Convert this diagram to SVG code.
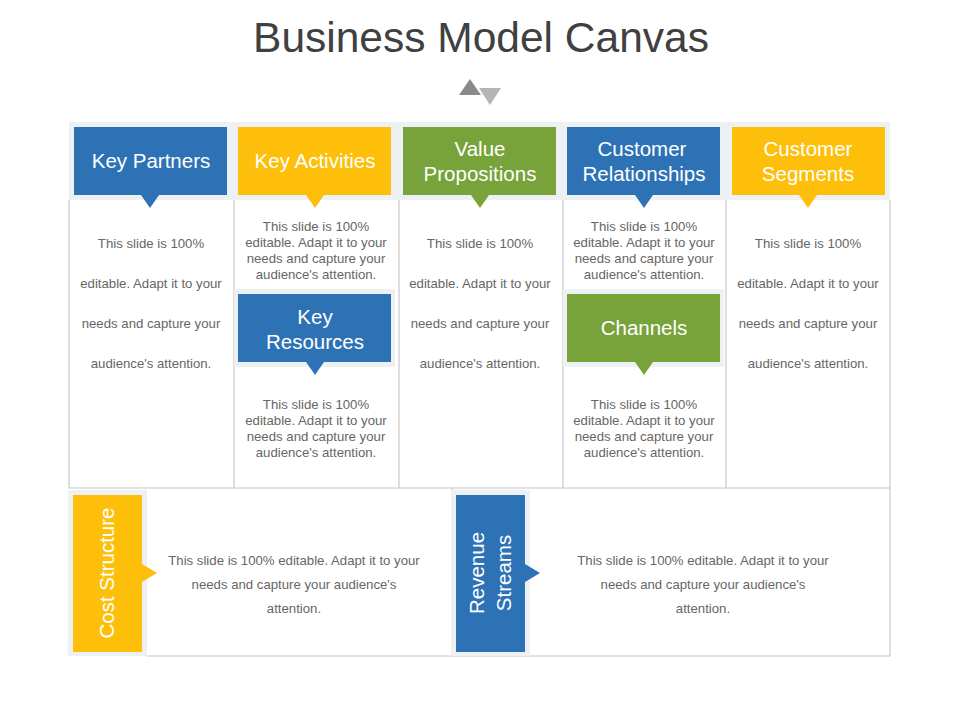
<svg xmlns="http://www.w3.org/2000/svg" width="960" height="720" viewBox="0 0 960 720">
<style>
.hd{font-family:"Liberation Sans",Arial,sans-serif;font-size:20.5px;fill:#fff;text-anchor:middle}
.bd{font-family:"Liberation Sans",Arial,sans-serif;font-size:13.2px;fill:#666;text-anchor:middle}
.ln{fill:none;stroke:#c8c8c8;stroke-width:1.2}
.fr{fill:#eef1f4}
.b{fill:#2e72b6}.y{fill:#fdbf0a}.g{fill:#77a33a}
</style>
<rect width="960" height="720" fill="#fff"/>
<text x="481" y="52" font-family="Liberation Sans,Arial,sans-serif" font-size="42.5" fill="#404040" text-anchor="middle">Business Model Canvas</text>
<polygon points="459,95 470,79 481,95" fill="#8a8a8a"/>
<polygon points="479,88 501,88 490,105" fill="#b5b5b5"/>
<g id="grid">
<rect class="fr" x="69" y="122" width="821" height="78"/>
<path class="ln" d="M69,200 V488 H890 V200 M234,200 V488 M399,200 V488 M563,200 V488 M726,200 V488 M147,656 H890 V488 M452,488 V656"/>
</g>
<g id="key-partners"><rect class="b" x="74" y="127" width="153" height="68"/><polygon class="b" points="141,195 159,195 150,208"/><text class="hd" x="151" y="168">Key Partners</text>
<text class="bd"><tspan x="151" y="248">This slide is 100%</tspan><tspan x="151" y="288">editable. Adapt it to your</tspan><tspan x="151" y="328">needs and capture your</tspan><tspan x="151" y="368">audience's attention.</tspan></text></g>
<g id="key-activities"><rect class="y" x="238" y="127" width="153" height="68"/><polygon class="y" points="306,195 324,195 315,208"/><text class="hd" x="315" y="168">Key Activities</text>
<text class="bd"><tspan x="316" y="231">This slide is 100%</tspan><tspan x="316" y="247">editable. Adapt it to your</tspan><tspan x="316" y="263">needs and capture your</tspan><tspan x="316" y="279">audience's attention.</tspan></text></g>
<g id="value-propositions"><rect class="g" x="403" y="127" width="153" height="68"/><polygon class="g" points="471,195 489,195 480,208"/><text class="hd"><tspan x="480" y="156">Value</tspan><tspan x="480" y="181">Propositions</tspan></text>
<text class="bd"><tspan x="480" y="248">This slide is 100%</tspan><tspan x="480" y="288">editable. Adapt it to your</tspan><tspan x="480" y="328">needs and capture your</tspan><tspan x="480" y="368">audience's attention.</tspan></text></g>
<g id="customer-relationships"><rect class="b" x="567" y="127" width="153" height="68"/><polygon class="b" points="635,195 653,195 644,208"/><text class="hd"><tspan x="642" y="156">Customer</tspan><tspan x="644" y="181">Relationships</tspan></text>
<text class="bd"><tspan x="644" y="231">This slide is 100%</tspan><tspan x="644" y="247">editable. Adapt it to your</tspan><tspan x="644" y="263">needs and capture your</tspan><tspan x="644" y="279">audience's attention.</tspan></text></g>
<g id="customer-segments"><rect class="y" x="732" y="127" width="153" height="68"/><polygon class="y" points="799,195 817,195 808,208"/><text class="hd"><tspan x="808" y="156">Customer</tspan><tspan x="808" y="181">Segments</tspan></text>
<text class="bd"><tspan x="808" y="248">This slide is 100%</tspan><tspan x="808" y="288">editable. Adapt it to your</tspan><tspan x="808" y="328">needs and capture your</tspan><tspan x="808" y="368">audience's attention.</tspan></text></g>
<g id="key-resources"><rect class="fr" x="234" y="289" width="161" height="78"/><rect class="b" x="238" y="294" width="153" height="68"/><polygon class="b" points="306,362 324,362 315,375"/><text class="hd"><tspan x="315" y="324">Key</tspan><tspan x="315" y="349">Resources</tspan></text>
<text class="bd"><tspan x="316" y="409">This slide is 100%</tspan><tspan x="316" y="425">editable. Adapt it to your</tspan><tspan x="316" y="441">needs and capture your</tspan><tspan x="316" y="457">audience's attention.</tspan></text></g>
<g id="channels"><rect class="fr" x="563" y="289" width="161" height="78"/><rect class="g" x="567" y="294" width="153" height="68"/><polygon class="g" points="635,362 653,362 644,375"/><text class="hd" x="644" y="335">Channels</text>
<text class="bd"><tspan x="644" y="409">This slide is 100%</tspan><tspan x="644" y="425">editable. Adapt it to your</tspan><tspan x="644" y="441">needs and capture your</tspan><tspan x="644" y="457">audience's attention.</tspan></text></g>
<g id="cost-structure"><rect class="fr" x="68" y="490" width="79" height="166"/><rect class="y" x="73" y="495" width="69" height="157"/><polygon class="y" points="142,564 157,573 142,582"/><text class="hd" transform="translate(114,573) rotate(-90)">Cost Structure</text>
<text class="bd"><tspan x="294" y="565">This slide is 100% editable. Adapt it to your</tspan><tspan x="294" y="589">needs and capture your audience's</tspan><tspan x="294" y="613">attention.</tspan></text></g>
<g id="revenue-streams"><rect class="fr" x="451" y="490" width="79" height="166"/><rect class="b" x="456" y="495" width="69" height="157"/><polygon class="b" points="525,564 540,573 525,582"/><text class="hd" transform="translate(484,573) rotate(-90)"><tspan x="0" y="0">Revenue</tspan><tspan x="0" y="27">Streams</tspan></text>
<text class="bd"><tspan x="703" y="565">This slide is 100% editable. Adapt it to your</tspan><tspan x="703" y="589">needs and capture your audience's</tspan><tspan x="703" y="613">attention.</tspan></text></g>
<g id="connectors"/>
</svg>
